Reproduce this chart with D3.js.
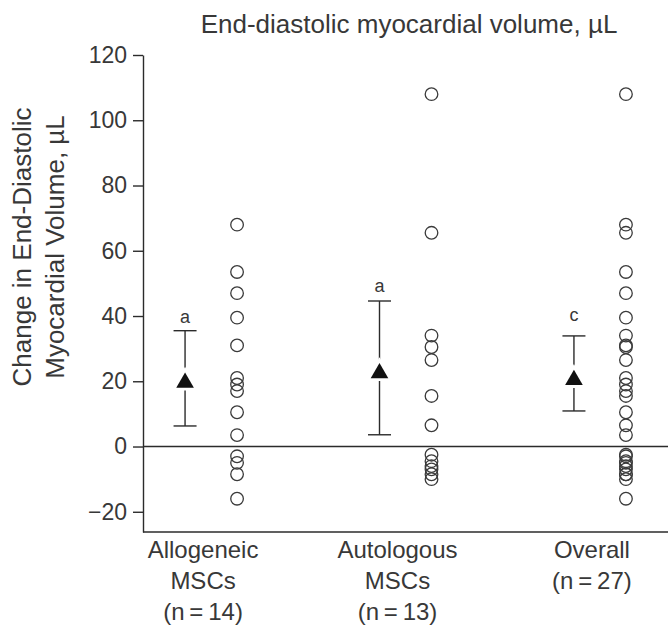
<!DOCTYPE html>
<html>
<head>
<meta charset="utf-8">
<script src="https://cdn.jsdelivr.net/npm/d3@7"></script>
<style>
  html, body { margin: 0; padding: 0; background: #fff; }
  svg { display: block; }
  text { font-family: "Liberation Sans", Arial, sans-serif; fill: #383838; }
</style>
</head>
<body>
<svg id="chart" width="668" height="636"></svg>
<script>
// Groups shown along the x axis
const categories = ["Allogeneic", "Autologous", "Overall"];
const categoryLines = [
  ["Allogeneic", "MSCs", "(n\u2009=\u200914)"],
  ["Autologous", "MSCs", "(n\u2009=\u200913)"],
  ["Overall", "(n\u2009=\u200927)"]
];

// Individual change in end-diastolic myocardial volume, µL
const allogeneicValues = [68, 53.5, 47, 39.5, 31, 21, 19, 17, 10.5, 3.5, -3, -5, -8.5, -16];
const autologousValues = [108, 65.5, 34, 30.5, 26.5, 15.5, 6.5, -2.5, -4.5, -6, -7, -8.5, -10];
const overallValues = allogeneicValues.concat(autologousValues);

// Group summary: mean with lower / upper interval bounds
const meanValues = [19.6, 22.5, 20.4];
const lowerValues = [6.3, 3.6, 10.9];
const upperValues = [35.5, 44.6, 33.9];
const significanceLetters = ["a", "a", "c"];

// Axis ticks
const yTicks = [-20, 0, 20, 40, 60, 80, 100, 120];

const svg = d3.select("#chart");
const plot = { left: 143, right: 668, top: 55, bottom: 532 };

const y = d3.scaleLinear().domain([-26.2, 120]).range([plot.bottom, plot.top]);
const x = d3.scalePoint().domain(categories).range([plot.left, plot.right]).padding(0.35);
const offset = 26;

const groups = categories.map((c, i) => ({
  cat: c,
  values: [allogeneicValues, autologousValues, overallValues][i],
  mean: meanValues[i],
  lower: lowerValues[i],
  upper: upperValues[i],
  letter: significanceLetters[i],
  lines: categoryLines[i]
}));

const ink = "#2b2b2b";

// Title
svg.append("text")
  .attr("x", 409).attr("y", 33)
  .attr("text-anchor", "middle")
  .style("font-size", "26px")
  .text("End-diastolic myocardial volume, \u00b5L");

// Y axis
const yAxis = d3.axisLeft(y).tickValues(yTicks).tickSize(10).tickSizeOuter(0).tickPadding(6);
const gy = svg.append("g").attr("transform", `translate(${plot.left},0)`).call(yAxis);
gy.select(".domain").attr("stroke", ink).attr("stroke-width", 1.4);
gy.selectAll(".tick line").attr("stroke", ink).attr("stroke-width", 1.4);
gy.selectAll(".tick text").style("font-size", "23px").style("font-family", "Liberation Sans, Arial, sans-serif").attr("fill", "#383838");

// Bottom frame line and zero reference line
svg.append("line")
  .attr("x1", plot.left).attr("x2", plot.right)
  .attr("y1", y.range()[0]).attr("y2", y.range()[0])
  .attr("stroke", ink).attr("stroke-width", 1.4);
svg.append("line")
  .attr("x1", plot.left).attr("x2", plot.right)
  .attr("y1", y(0)).attr("y2", y(0))
  .attr("stroke", ink).attr("stroke-width", 1.4);

// Y axis title (two lines, rotated)
const yTitle = svg.append("text")
  .attr("transform", "translate(31,247) rotate(-90)")
  .attr("text-anchor", "middle")
  .style("font-size", "26px");
yTitle.append("tspan").attr("x", 0).attr("dy", 0).text("Change in End-Diastolic");
yTitle.append("tspan").attr("x", 0).attr("dy", 33).text("Myocardial Volume, \u00b5L");

// Individual points
groups.forEach(g => {
  svg.append("g").selectAll("circle")
    .data(g.values)
    .join("circle")
    .attr("cx", x(g.cat) + offset)
    .attr("cy", d => y(d))
    .attr("r", 6.3)
    .attr("fill", "none")
    .attr("stroke", "#3a3a3a")
    .attr("stroke-width", 1.3);
});

// Mean and interval bars
const capHalf = 11.5;
const letterGap = [8, 9, 15];
groups.forEach((g, i) => {
  const cx = x(g.cat) - offset;
  const eb = svg.append("g");
  eb.append("line").attr("x1", cx).attr("x2", cx)
    .attr("y1", y(g.upper)).attr("y2", y(g.lower))
    .attr("stroke", ink).attr("stroke-width", 1.4);
  [g.upper, g.lower].forEach(v => {
    eb.append("line").attr("x1", cx - capHalf).attr("x2", cx + capHalf)
      .attr("y1", y(v)).attr("y2", y(v))
      .attr("stroke", ink).attr("stroke-width", 1.4);
  });
  // white halo behind the mean marker
  eb.append("path")
    .attr("d", d3.symbol(d3.symbolTriangle, 330)())
    .attr("transform", `translate(${cx},${y(g.mean)})`)
    .attr("fill", "#fff");
  eb.append("path")
    .attr("d", d3.symbol(d3.symbolTriangle, 135)())
    .attr("transform", `translate(${cx},${y(g.mean)})`)
    .attr("fill", "#111");
  svg.append("text")
    .attr("x", cx).attr("y", y(g.upper) - letterGap[i])
    .attr("text-anchor", "middle")
    .style("font-size", "18px")
    .attr("fill", "#444")
    .text(g.letter);
});

// Category labels
groups.forEach(g => {
  const t = svg.append("text")
    .attr("text-anchor", "middle")
    .style("font-size", "24px");
  g.lines.forEach((line, j) => {
    t.append("tspan")
      .attr("x", x(g.cat) - 8)
      .attr("y", 558 + j * 31)
      .text(line);
  });
});
</script>
</body>
</html>
